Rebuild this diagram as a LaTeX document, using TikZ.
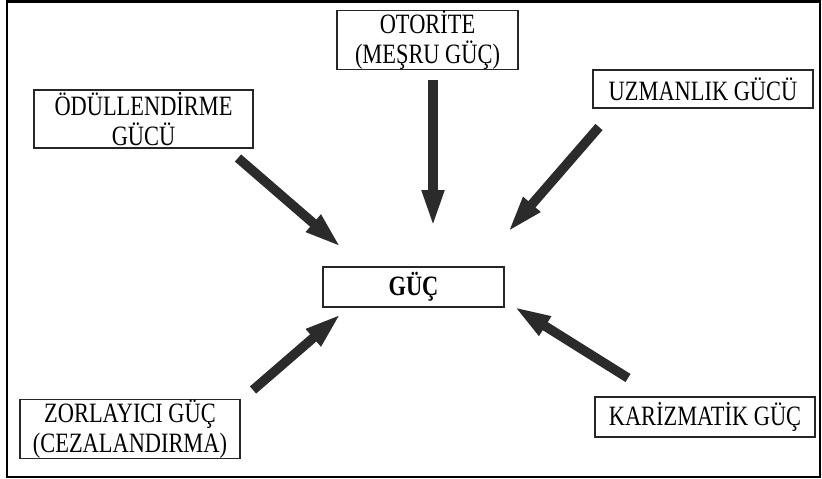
\documentclass[tikz,border=0pt]{standalone}
\usepackage{fontspec}
\setmainfont{Liberation Serif}[FakeStretch=0.8]
\usetikzlibrary{arrows.meta}
\definecolor{arrowgray}{HTML}{2B2B2B}
\begin{document}
\begin{tikzpicture}[x=1pt,y=-1pt,
  box/.style={draw=black!85, line width=1.1pt, inner sep=0pt, align=center,
    font=\fontsize{28}{29.5}\selectfont, text=black},
  bigarrow/.style={draw=arrowgray, line width=9.5pt,
    -{Triangle[length=38pt,width=20pt]}}]
\useasboundingbox (0,0) rectangle (822,479);
\draw[line width=2.5pt] (7,1.5) rectangle (820,477);
\node[box, minimum width=181pt, minimum height=56pt] (oto) at (427.5,40) {OTORİTE\\(MEŞRU GÜÇ)};
\node[box, minimum width=219pt, minimum height=58pt] (odul) at (143.5,119) {ÖDÜLLENDİRME\\GÜCÜ};
\node[box, minimum width=220pt, minimum height=38pt] (uzm) at (703,89) {UZMANLIK GÜCÜ};
\node[box, minimum width=181pt, minimum height=40pt, font=\fontsize{28}{29.5}\selectfont\bfseries] (guc) at (413.5,287) {GÜÇ};
\node[box, minimum width=220pt, minimum height=58pt] (zor) at (130,429) {ZORLAYICI GÜÇ\\(CEZALANDIRMA)};
\node[box, minimum width=220pt, minimum height=40pt] (kar) at (705,417) {KARİZMATİK GÜÇ};
\coordinate (otoS) at (433,80);
\coordinate (otoE) at (433,228);
\coordinate (odulS) at (238,158);
\coordinate (odulE) at (342,248);
\coordinate (uzmS) at (599,127);
\coordinate (uzmE) at (507,233);
\coordinate (zorS) at (253,390);
\coordinate (zorE) at (342,313);
\coordinate (karS) at (628,378);
\coordinate (karE) at (513,306);
\draw[bigarrow] (otoS) -- (otoE);
\draw[bigarrow] (odulS) -- (odulE);
\draw[bigarrow] (uzmS) -- (uzmE);
\draw[bigarrow] (zorS) -- (zorE);
\draw[bigarrow] (karS) -- (karE);
\end{tikzpicture}
\end{document}
